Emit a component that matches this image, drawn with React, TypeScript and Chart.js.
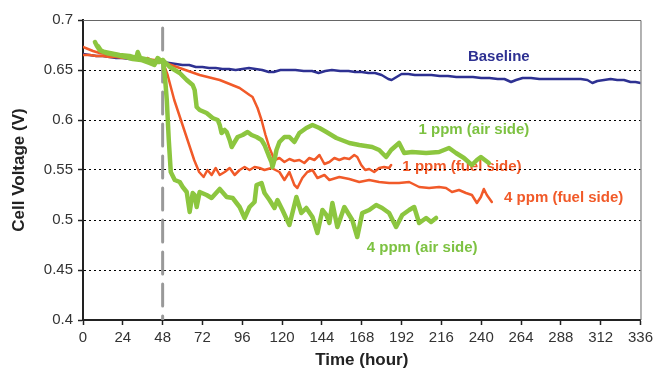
import React, { useEffect, useRef } from "react";
import { Chart, registerables } from "chart.js";

Chart.register(...registerables);

// ---- Data (hours, cell voltage V) ----
const baselineHours = [0, 4, 8, 12, 16, 20, 24, 28, 32, 36, 40, 44, 48, 52, 56, 60, 64, 68, 72, 76, 80, 84, 88, 92, 96, 100, 104, 108, 112, 115, 119, 124, 128, 133, 138, 142, 146, 150, 155, 160, 164, 168, 172, 176, 180, 184, 186, 189, 192, 196, 200, 205, 210, 215, 220, 225, 230, 235, 240, 245, 250, 254, 258, 261, 265, 270, 275, 280, 285, 290, 295, 300, 304, 307, 310, 314, 318, 322, 326, 330, 333, 336];
const baselineVolts = [0.666, 0.665, 0.664, 0.664, 0.663, 0.662, 0.662, 0.661, 0.661, 0.660, 0.659, 0.659, 0.658, 0.657, 0.656, 0.655, 0.655, 0.653, 0.653, 0.652, 0.652, 0.651, 0.651, 0.650, 0.651, 0.652, 0.651, 0.650, 0.648, 0.648, 0.650, 0.650, 0.650, 0.649, 0.649, 0.647, 0.649, 0.650, 0.649, 0.649, 0.648, 0.648, 0.647, 0.647, 0.645, 0.641, 0.640, 0.643, 0.646, 0.646, 0.645, 0.645, 0.645, 0.644, 0.644, 0.643, 0.643, 0.643, 0.642, 0.642, 0.641, 0.641, 0.638, 0.640, 0.642, 0.642, 0.641, 0.641, 0.641, 0.641, 0.641, 0.641, 0.640, 0.637, 0.639, 0.640, 0.641, 0.640, 0.640, 0.638, 0.638, 0.637];

const airOnePpmHours = [7.2, 8.4, 10, 13, 16, 22, 28, 32, 33, 34.5, 40, 43, 46, 48.1, 52.3, 58.3, 62.5, 66.1, 67.3, 68.5, 70.3, 74.5, 78.1, 81.2, 82.4, 83.5, 85.4, 86.6, 88.4, 89.6, 91.4, 93.2, 96.2, 99.2, 101.6, 104.6, 107.6, 109.4, 111.8, 113.6, 114.2, 115.4, 116.6, 118.4, 121.4, 124.4, 127.4, 130.4, 134.6, 138.3, 142.5, 146.7, 152.7, 160.5, 166.5, 174.3, 178.5, 182.7, 185.7, 190.5, 193.6, 198.4, 206.8, 214.6, 220.6, 224.8, 229.6, 234.4, 237.4, 239.8, 242.2, 244.6];
const airOnePpmVolts = [0.678, 0.674, 0.670, 0.668, 0.667, 0.665, 0.664, 0.662, 0.668, 0.662, 0.660, 0.658, 0.658, 0.660, 0.653, 0.647, 0.640, 0.635, 0.630, 0.613, 0.610, 0.607, 0.602, 0.600, 0.595, 0.587, 0.590, 0.588, 0.580, 0.573, 0.578, 0.583, 0.585, 0.588, 0.585, 0.583, 0.580, 0.575, 0.565, 0.558, 0.553, 0.560, 0.570, 0.578, 0.583, 0.583, 0.578, 0.587, 0.592, 0.595, 0.592, 0.588, 0.582, 0.577, 0.575, 0.573, 0.570, 0.563, 0.570, 0.577, 0.567, 0.568, 0.567, 0.568, 0.572, 0.567, 0.562, 0.555, 0.560, 0.563, 0.560, 0.557];

const airFourPpmHours = [9, 11, 14, 20, 26, 30, 35, 40, 43, 45, 47, 48.1, 49.3, 50.5, 51.7, 52.9, 55.3, 58.3, 60.1, 62.5, 64.3, 66.1, 67.3, 68.5, 70.3, 74.5, 77.5, 82.4, 86.6, 90.2, 94.4, 97.4, 100.4, 103.4, 104.6, 107.6, 109.4, 112.4, 115.4, 117.2, 120.2, 124.4, 128.6, 131.6, 134.6, 138.3, 141.3, 144.3, 146.7, 148.5, 150.3, 153.3, 157.5, 162.3, 165.3, 168.3, 172.5, 176.7, 180.3, 184.5, 188.7, 192.4, 196.6, 199.6, 202.6, 206.8, 209.8, 212.8];
const airFourPpmVolts = [0.674, 0.669, 0.667, 0.665, 0.663, 0.661, 0.660, 0.657, 0.655, 0.662, 0.659, 0.660, 0.645, 0.620, 0.580, 0.548, 0.540, 0.538, 0.533, 0.528, 0.508, 0.527, 0.525, 0.513, 0.528, 0.525, 0.522, 0.531, 0.523, 0.522, 0.513, 0.502, 0.513, 0.518, 0.535, 0.537, 0.527, 0.520, 0.512, 0.520, 0.510, 0.495, 0.523, 0.507, 0.512, 0.503, 0.487, 0.510, 0.505, 0.497, 0.517, 0.493, 0.513, 0.500, 0.483, 0.507, 0.510, 0.515, 0.512, 0.507, 0.493, 0.505, 0.510, 0.513, 0.497, 0.502, 0.498, 0.502];

const fuelOnePpmHours = [0, 4, 8, 12, 16, 20, 24, 28, 32, 36, 39, 41, 44, 48.1, 58.3, 70.3, 82.4, 94.4, 100.4, 102.2, 105.2, 107.6, 110, 112.4, 115.4, 118.4, 121.4, 124.4, 127.4, 130.4, 133.4, 136.4, 139.5, 142.5, 145.5, 148.5, 151.5, 154.5, 157.5, 160.5, 163.5, 165.3, 167.7, 170.1, 172.5, 175.5, 178.5, 181.5, 184.5, 185.7];
const fuelOnePpmVolts = [0.665, 0.665, 0.664, 0.664, 0.663, 0.663, 0.662, 0.662, 0.661, 0.661, 0.662, 0.660, 0.660, 0.658, 0.652, 0.645, 0.640, 0.632, 0.625, 0.623, 0.612, 0.600, 0.585, 0.572, 0.560, 0.562, 0.558, 0.561, 0.559, 0.560, 0.557, 0.562, 0.560, 0.565, 0.556, 0.558, 0.562, 0.560, 0.562, 0.561, 0.565, 0.563, 0.555, 0.550, 0.551, 0.548, 0.552, 0.553, 0.552, 0.555];

const fuelFourPpmHours = [0, 3, 6, 10, 14, 18, 22, 26, 30, 34, 38, 42, 45, 48.1, 51, 55, 61, 67, 70, 72.7, 75, 77.5, 80, 82.4, 85.4, 88.4, 91.4, 94.4, 97.4, 100.4, 103.4, 106.4, 109.4, 113.6, 118.4, 121.4, 124.4, 127.4, 129.2, 132.2, 135.2, 138.3, 141.3, 145.5, 148.5, 154.5, 160.5, 166.5, 172.5, 178.5, 184.5, 190.5, 196.6, 202.6, 208.6, 214.6, 218.8, 222.4, 226.6, 230.8, 234.4, 237.4, 239.8, 241.6, 243.4, 246.4];
const fuelFourPpmVolts = [0.673, 0.671, 0.669, 0.667, 0.666, 0.665, 0.664, 0.663, 0.662, 0.661, 0.661, 0.660, 0.659, 0.658, 0.645, 0.620, 0.590, 0.560, 0.548, 0.543, 0.550, 0.545, 0.552, 0.545, 0.548, 0.552, 0.545, 0.550, 0.553, 0.550, 0.553, 0.552, 0.550, 0.552, 0.548, 0.540, 0.548, 0.535, 0.532, 0.542, 0.548, 0.550, 0.542, 0.545, 0.540, 0.543, 0.541, 0.538, 0.540, 0.538, 0.537, 0.537, 0.538, 0.533, 0.532, 0.533, 0.532, 0.528, 0.530, 0.527, 0.525, 0.517, 0.523, 0.531, 0.525, 0.518];

// Reference (dashed) line marking contaminant injection time
const injectionHours = [48, 48];
const injectionVolts = [0.692, 0.4];

// Series labels written on the plot (data coordinates)
const labelTexts = ["Baseline", "1 ppm (air side)", "1 ppm (fuel side)", "4 ppm (fuel side)", "4 ppm (air side)"];
const labelHours = [250.6, 235.6, 228.4, 289.7, 204.4];
const labelVolts = [0.663, 0.590, 0.553, 0.522, 0.472];

const BLUE = "#2e3192";
const GREEN = "#8cc63f";
const GREEN_TEXT = "#7dc242";
const ORANGE = "#f15a29";
const labelColors = [BLUE, GREEN_TEXT, ORANGE, ORANGE, GREEN_TEXT];

const toPoints = (xs: number[], ys: number[]) => xs.map((x, i) => ({ x, y: ys[i] }));

const FONT = "'Liberation Sans', Arial, sans-serif";

export default function App() {
  const ref = useRef<HTMLCanvasElement | null>(null);

  useEffect(() => {
    document.body.style.margin = "0";
    const canvas = ref.current;
    if (!canvas) return;

    const labelPlugin = {
      id: "seriesLabels",
      beforeDraw(chart: any) {
        const { ctx, scales } = chart;
        ctx.save();
        ctx.font = `bold 15px ${FONT}`;
        ctx.textAlign = "center";
        ctx.textBaseline = "middle";
        labelTexts.forEach((t, i) => {
          ctx.fillStyle = labelColors[i];
          ctx.fillText(t, scales.x.getPixelForValue(labelHours[i]), scales.y.getPixelForValue(labelVolts[i]));
        });
        ctx.restore();
      },
      afterDraw(chart: any) {
        const { ctx, chartArea } = chart;
        ctx.save();
        ctx.strokeStyle = "#666";
        ctx.lineWidth = 1;
        ctx.beginPath();
        ctx.moveTo(chartArea.left, chartArea.top + 0.5);
        ctx.lineTo(chartArea.right + 0.5, chartArea.top + 0.5);
        ctx.lineTo(chartArea.right + 0.5, chartArea.bottom);
        ctx.stroke();
        ctx.restore();
      },
    };

    const isEdge = (v: number) => Math.abs(v - 0.4) < 1e-6 || Math.abs(v - 0.7) < 1e-6;

    const chart = new Chart(canvas, {
      type: "line",
      data: {
        datasets: [
          { label: "4 ppm (air side)", data: toPoints(airFourPpmHours, airFourPpmVolts), borderColor: GREEN, borderWidth: 4.5, order: 1 },
          { label: "1 ppm (air side)", data: toPoints(airOnePpmHours, airOnePpmVolts), borderColor: GREEN, borderWidth: 4.5, order: 1 },
          { label: "4 ppm (fuel side)", data: toPoints(fuelFourPpmHours, fuelFourPpmVolts), borderColor: ORANGE, borderWidth: 2.5, order: 2 },
          { label: "1 ppm (fuel side)", data: toPoints(fuelOnePpmHours, fuelOnePpmVolts), borderColor: ORANGE, borderWidth: 2.5, order: 2 },
          { label: "Baseline", data: toPoints(baselineHours, baselineVolts), borderColor: BLUE, borderWidth: 2.5, order: 3 },
          { label: "Injection", data: toPoints(injectionHours, injectionVolts), borderColor: "#999999", borderWidth: 3, borderDash: [22, 10], order: 4 },
        ],
      },
      options: {
        animation: false,
        responsive: false,
        maintainAspectRatio: false,
        layout: { padding: { left: 0, right: 15, top: 20, bottom: 0 } },
        elements: { point: { radius: 0 }, line: { tension: 0, fill: false, borderCapStyle: "round", borderJoinStyle: "round" } },
        plugins: { legend: { display: false }, tooltip: { enabled: false } },
        scales: {
          x: {
            type: "linear",
            min: 0,
            max: 336,
            afterFit: (s: any) => { s.height = 53; },
            ticks: { stepSize: 24, color: "#333", font: { family: FONT, size: 15 }, padding: 4, maxRotation: 0, autoSkip: false },
            grid: { drawOnChartArea: false, drawTicks: true, tickLength: 5, tickColor: "#222", tickWidth: 1.5 },
            border: { display: true, color: "#222", width: 2 },
            title: { display: true, text: "Time (hour)", color: "#222", font: { family: FONT, size: 17, weight: "bold" }, padding: { top: 0, bottom: 2 } },
          },
          y: {
            type: "linear",
            min: 0.4,
            max: 0.7,
            afterFit: (s: any) => { s.width = 83; },
            ticks: {
              stepSize: 0.05,
              color: "#333",
              font: { family: FONT, size: 15 },
              padding: 5,
              callback: (v: any) => String(Number(Number(v).toFixed(2))),
            },
            grid: {
              drawOnChartArea: true,
              drawTicks: true,
              tickLength: 5,
              tickColor: "#222",
              tickWidth: 1.5,
              lineWidth: 1,
              color: (c: any) => (c.tick && isEdge(c.tick.value) ? "rgba(0,0,0,0)" : "#000"),
            },
            border: { display: true, color: "#222", width: 2, dash: [2, 3] },
            title: { display: true, text: "Cell Voltage (V)", color: "#222", font: { family: FONT, size: 17, weight: "bold" }, padding: { top: 9, bottom: 0 } },
          },
        },
      },
      plugins: [labelPlugin],
    } as any);

    return () => chart.destroy();
  }, []);

  return (
    <div style={{ width: 657, height: 373 }}>
      <canvas ref={ref} width={657} height={373} style={{ display: "block" }} />
    </div>
  );
}
